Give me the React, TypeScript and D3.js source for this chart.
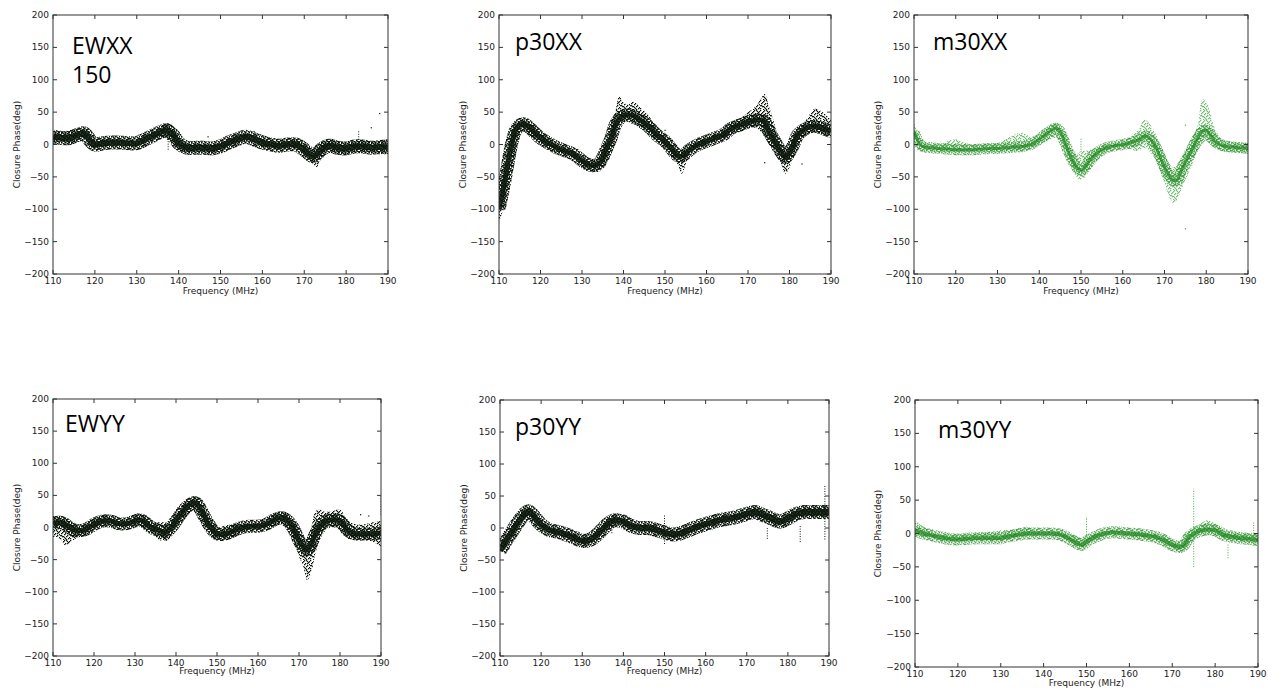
import React from "react";
import * as d3 from "d3";

// ---------- data ----------
const X_TICKS = [110, 120, 130, 140, 150, 160, 170, 180, 190];
const Y_TICKS = [-200, -150, -100, -50, 0, 50, 100, 150, 200];

// EWXX 150
const F_EWXX = [110,112,114,116,117.5,119,120,122,124,126,128,130,132,134,136,137,138,139,140,142,144,146,148,150,152,154,156,158,160,162,164,166,168,170,172,173,174,176,178,180,182,184,186,188,190];
const MID_EWXX = [12,10,10,15,17,5,0,2,3,3,2,2,8,14,20,22,18,12,2,-5,-5,-5,-6,-3,3,8,12,8,3,0,-2,0,0,-8,-18,-15,-8,-2,-5,-6,-3,-3,-5,-4,-3];
const LO_EWXX = [0,5,0,5,10,-5,-5,-3,-2,-2,-2,-2,3,8,12,10,5,0,-8,-12,-12,-12,-14,-10,-3,2,5,3,-3,-5,-8,-6,-6,-15,-30,-35,-20,-10,-15,-15,-12,-12,-12,-15,-15];
const HI_EWXX = [22,20,22,25,25,15,8,8,8,7,6,6,14,20,28,32,33,25,12,2,2,0,0,3,8,14,17,14,9,6,5,7,8,0,-5,-3,3,8,5,3,5,6,5,5,8];
const SPIKE_EWXX = [[137.5, -8, 32], [183, -12, 22]];
const OUT_EWXX = [[188, 48], [186, 26], [158, 20], [147, 12]];

// p30XX
const F_P30XX = [110,111,112,113,114,115,116,117,118,120,122,124,126,128,130,132,134,135,136,137,138,139,140,141,142,143,144,146,148,150,152,153,154,156,158,160,162,164,166,168,170,172,173,174,175,176,178,179,180,181,182,184,186,188,190];
const MID_P30XX = [-100,-70,-35,0,22,30,32,28,22,10,2,-5,-10,-15,-25,-32,-30,-20,-5,10,30,40,45,46,45,42,38,28,15,5,-10,-17,-18,-8,0,5,10,15,25,30,35,38,38,35,20,10,-12,-20,-12,0,15,25,28,25,20];
const LO_P30XX = [-120,-100,-70,-40,-10,15,20,15,12,2,-5,-12,-15,-22,-33,-42,-42,-35,-25,-10,10,30,35,35,32,30,25,18,5,-5,-22,-30,-45,-15,-5,0,5,8,15,20,25,25,20,15,0,-5,-30,-45,-35,-20,0,15,18,15,10];
const HI_P30XX = [-60,-40,-10,20,32,36,38,35,30,18,8,0,-5,-10,-18,-25,-20,-5,10,30,50,75,65,62,66,64,58,45,25,12,-3,-8,-10,0,5,10,15,22,35,40,50,60,70,78,60,40,0,-5,0,12,25,38,55,50,38];
const SPIKE_P30XX: number[][] = [];
const OUT_P30XX = [[150, 22], [174, -28], [183, -30]];

// m30XX
const F_M30XX = [110,111,112,114,116,118,120,122,124,126,128,130,132,134,136,138,140,142,144,145,146,148,149,150,151,152,154,156,158,160,162,164,165,166,168,170,172,173,174,176,178,179,180,181,182,184,186,188,190];
const MID_M30XX = [20,5,-3,-5,-6,-7,-8,-8,-8,-7,-6,-6,-5,-4,-3,0,8,18,25,20,5,-25,-35,-40,-35,-25,-12,-5,-2,0,3,8,12,12,-5,-35,-55,-55,-40,-15,10,20,22,15,5,-2,-4,-5,-6];
const LO_M30XX = [8,-5,-10,-10,-12,-12,-12,-12,-12,-12,-12,-12,-10,-10,-10,-5,0,5,10,5,-10,-40,-50,-55,-50,-40,-25,-12,-8,-5,-8,-10,-5,-8,-25,-60,-90,-85,-70,-40,-10,0,5,0,-5,-10,-12,-12,-15];
const HI_M30XX = [35,15,5,0,0,5,8,3,0,0,2,2,8,15,18,12,15,28,33,30,20,-10,-15,-10,-10,-8,-5,0,3,5,12,25,38,35,15,-15,-35,-30,-20,5,30,70,65,50,25,8,5,3,2];
const SPIKE_M30XX = [[150, -12, 10]];
const OUT_M30XX = [[175, -130], [175, 30]];

// EWYY
const F_EWYY = [110,111,112,113,114,116,118,120,122,124,126,128,130,131,132,134,136,137,138,140,142,144,145,146,148,150,152,154,156,158,160,162,164,166,168,170,171,172,173,174,175,176,178,180,182,184,186,188,190];
const MID_EWYY = [5,8,8,5,0,-5,-3,5,10,10,6,6,10,12,10,0,-5,-8,-5,10,28,38,38,28,5,-10,-10,-5,0,2,2,5,12,15,5,-20,-30,-35,-25,-10,0,8,12,10,-5,-10,-10,-10,-8];
const LO_EWYY = [-15,-15,-20,-28,-25,-15,-10,-3,3,3,2,2,3,3,0,-8,-20,-20,-20,0,15,25,25,15,-5,-20,-18,-15,-8,-5,-3,0,3,5,-10,-45,-60,-82,-70,-40,-20,-5,0,-3,-18,-20,-20,-22,-30];
const HI_EWYY = [18,18,18,15,10,3,5,15,18,18,12,12,18,20,18,8,8,8,5,20,38,48,48,40,18,0,3,5,5,6,7,12,22,25,18,-5,-15,-20,0,25,28,25,25,28,10,5,5,8,10];
const SPIKE_EWYY = [[137.5, -20, 8], [190, 20, 50]];
const OUT_EWYY = [[187, 18], [185, 20]];

// p30YY
const F_P30YY = [110,112,114,116,117,118,120,122,124,126,128,130,132,134,136,137,138,140,142,144,146,148,150,152,154,156,158,160,162,164,166,168,170,172,174,176,178,180,182,184,186,188,190];
const MID_P30YY = [-35,-15,5,22,26,20,5,-3,-6,-10,-15,-20,-18,-8,5,10,12,10,3,0,0,-3,-7,-10,-8,-3,2,6,10,13,15,18,22,25,20,15,10,15,22,25,25,25,25];
const LO_P30YY = [-42,-22,-2,15,18,12,0,-8,-10,-14,-20,-27,-24,-14,-2,0,5,5,-2,-5,-5,-8,-12,-16,-14,-8,-3,2,5,8,10,12,15,18,12,8,5,8,15,18,18,18,18];
const HI_P30YY = [-25,-8,12,30,33,25,10,2,-2,-5,-10,-14,-12,-2,12,18,18,15,8,5,5,2,-2,-4,-2,2,6,10,14,18,20,22,28,32,28,22,15,22,28,32,32,33,33];
const SPIKE_P30YY = [[137.2, -8, 15], [150, -25, 20], [175, -17, 0], [183, -22, 5], [189, -18, 68]];
const OUT_P30YY: number[][] = [];

// m30YY
const F_M30YY = [110,112,114,116,118,120,122,124,126,128,130,132,134,136,138,140,142,144,146,148,149,150,152,154,156,158,160,162,164,166,168,170,172,173,174,176,178,180,182,184,186,188,190];
const MID_M30YY = [5,0,-3,-6,-8,-9,-8,-7,-7,-7,-7,-4,-2,0,0,0,0,-2,-8,-15,-17,-12,-5,0,2,1,0,-1,-3,-5,-10,-17,-20,-15,-5,3,6,5,-2,-5,-7,-8,-10];
const LO_M30YY = [-2,-5,-6,-10,-12,-12,-12,-10,-10,-10,-10,-8,-5,-4,-3,-3,-3,-5,-12,-20,-22,-18,-10,-4,-2,-3,-4,-6,-8,-10,-15,-22,-28,-25,-15,-3,0,-2,-8,-10,-12,-14,-15];
const HI_M30YY = [20,10,2,-2,-3,-2,-2,0,2,3,5,5,8,10,5,4,4,3,-2,-5,-8,-5,0,3,5,4,3,3,2,0,-5,-10,-12,-5,5,12,20,15,5,2,0,0,-2];
const SPIKE_M30YY = [[150, -2, 25], [175, -50, 67], [183, -37, -15], [189, -15, 18]];
const OUT_M30YY: number[][] = [];

// ---------- layout / style ----------
type PanelCfg = {
  id: string; l: number; r: number; t: number; b: number;
  label: string[]; lx: number; ly: number; fs: number;
  green: boolean; core: number;
  f: number[]; mid: number[]; lo: number[]; hi: number[];
  spikes: number[][]; outs: number[][];
  ylabOff: number; xlabOff: number;
};

const PANELS: PanelCfg[] = [
  { id: "p1", l: 53, r: 388, t: 15, b: 274, label: ["EWXX", "150"], lx: 72, ly: 54, fs: 23, green: false, core: 6,
    f: F_EWXX, mid: MID_EWXX, lo: LO_EWXX, hi: HI_EWXX, spikes: SPIKE_EWXX, outs: OUT_EWXX, ylabOff: 36, xlabOff: 20 },
  { id: "p2", l: 499, r: 831, t: 15, b: 274, label: ["p30XX"], lx: 515, ly: 50, fs: 23, green: false, core: 5,
    f: F_P30XX, mid: MID_P30XX, lo: LO_P30XX, hi: HI_P30XX, spikes: SPIKE_P30XX, outs: OUT_P30XX, ylabOff: 36, xlabOff: 20 },
  { id: "p3", l: 914, r: 1248, t: 15, b: 274, label: ["m30XX"], lx: 933, ly: 50, fs: 23, green: true, core: 3,
    f: F_M30XX, mid: MID_M30XX, lo: LO_M30XX, hi: HI_M30XX, spikes: SPIKE_M30XX, outs: OUT_M30XX, ylabOff: 36, xlabOff: 20 },
  { id: "p4", l: 53, r: 381, t: 399, b: 656, label: ["EWYY"], lx: 65, ly: 432, fs: 23, green: false, core: 5,
    f: F_EWYY, mid: MID_EWYY, lo: LO_EWYY, hi: HI_EWYY, spikes: SPIKE_EWYY, outs: OUT_EWYY, ylabOff: 36, xlabOff: 18 },
  { id: "p5", l: 500, r: 829, t: 400, b: 656, label: ["p30YY"], lx: 515, ly: 435, fs: 23, green: false, core: 6,
    f: F_P30YY, mid: MID_P30YY, lo: LO_P30YY, hi: HI_P30YY, spikes: SPIKE_P30YY, outs: OUT_P30YY, ylabOff: 36, xlabOff: 18 },
  { id: "p6", l: 915, r: 1258, t: 400, b: 667, label: ["m30YY"], lx: 938, ly: 438, fs: 23, green: true, core: 4,
    f: F_M30YY, mid: MID_M30YY, lo: LO_M30YY, hi: HI_M30YY, spikes: SPIKE_M30YY, outs: OUT_M30YY, ylabOff: 37, xlabOff: 19 },
];

const DARK = "#0c180c";
const GREEN = "#1c861c";
const LIGHTGREEN = "#48aa48";

// irregular dot positions for the scatter texture tile (style only)
const DOTS_SPARSE = [[0,0],[3,1],[6,0],[1,3],[5,3],[8,2],[2,6],[7,5],[4,7],[0,8],[9,7],[6,9],[3,9],[9,4],[4,4],[7,1],[1,5],[8,8],[5,8],[2,2],[9,1],[3,6],[6,6],[0,5],[7,3],[4,0]];
const DOTS_DENSE = [[0,0],[2,0],[4,1],[6,0],[8,1],[1,2],[3,3],[5,2],[7,3],[9,2],[0,4],[2,5],[4,4],[6,5],[8,4],[1,6],[3,7],[5,6],[7,7],[9,6],[0,8],[2,9],[4,8],[6,9],[8,8],[1,0],[5,4],[9,8],[3,5],[7,9]];

function Panel({ p }: { p: PanelCfg }) {
  const x = d3.scaleLinear().domain([110, 190]).range([p.l, p.r]);
  const y = d3.scaleLinear().domain([-200, 200]).range([p.b, p.t]);
  const idx = p.f.map((_, i) => i);
  const area = d3.area<number>()
    .x((i) => x(p.f[i]))
    .y0((i) => y(p.lo[i]))
    .y1((i) => y(p.hi[i]))
    .curve(d3.curveCatmullRom.alpha(0.5));
  const line = d3.line<number>()
    .x((i) => x(p.f[i]))
    .y((i) => y(p.mid[i]))
    .curve(d3.curveCatmullRom.alpha(0.5));
  const sparse = p.green ? "url(#sparseGreen)" : "url(#sparseDark)";
  const dense = p.green ? "url(#denseGreen)" : "url(#denseDark)";
  const col = p.green ? GREEN : DARK;
  const tk = 4;
  const font = "'DejaVu Sans', sans-serif";
  const lineD = line(idx) || "";
  return (
    <g>
      <defs>
        <clipPath id={`clip-${p.id}`}>
          <rect x={p.l} y={p.t} width={p.r - p.l} height={p.b - p.t} />
        </clipPath>
      </defs>
      <g clipPath={`url(#clip-${p.id})`}>
        <path d={area(idx) || ""} fill={sparse} />
        <path d={lineD} fill="none" stroke={dense} strokeWidth={p.core + 8} strokeLinejoin="round" />
        <path d={lineD} fill="none" stroke={col} strokeOpacity={p.green ? 0.7 : 0.85} strokeWidth={p.core} strokeLinejoin="round" />
        {p.spikes.map((s, i) => (
          <line key={i} x1={x(s[0])} x2={x(s[0])} y1={y(s[1])} y2={y(s[2])}
            stroke={p.green ? LIGHTGREEN : DARK} strokeWidth={1} strokeDasharray="1 1.5" />
        ))}
        {p.outs.map((o, i) => (
          <rect key={i} x={x(o[0]) - 0.5} y={y(o[1]) - 0.5} width={1.2} height={1.2} fill={p.green ? LIGHTGREEN : DARK} />
        ))}
      </g>
      {/* frame */}
      <rect x={p.l} y={p.t} width={p.r - p.l} height={p.b - p.t} fill="none" stroke="#333" strokeWidth={1} />
      {/* ticks */}
      {X_TICKS.map((v) => (
        <g key={`x${v}`}>
          <line x1={x(v)} x2={x(v)} y1={p.b} y2={p.b - tk} stroke="#333" />
          <line x1={x(v)} x2={x(v)} y1={p.t} y2={p.t + tk} stroke="#333" />
          <text x={x(v)} y={p.b + 9.5} fontSize={9} fontFamily={font} fill="#222" textAnchor="middle">{v}</text>
        </g>
      ))}
      {Y_TICKS.map((v) => (
        <g key={`y${v}`}>
          <line x1={p.l} x2={p.l + tk} y1={y(v)} y2={y(v)} stroke="#333" />
          <line x1={p.r} x2={p.r - tk} y1={y(v)} y2={y(v)} stroke="#333" />
          <text x={p.l - 4} y={y(v) + 3} fontSize={9} fontFamily={font} fill="#222" textAnchor="end">
            {v < 0 ? `\u2212${Math.abs(v)}` : v}
          </text>
        </g>
      ))}
      <text x={(p.l + p.r) / 2} y={p.b + p.xlabOff} fontSize={9} fontFamily={font} fill="#222" textAnchor="middle">Frequency (MHz)</text>
      <text transform={`translate(${p.l - p.ylabOff},${(p.t + p.b) / 2}) rotate(-90)`} fontSize={9} fontFamily={font}
        fill="#222" textAnchor="middle" dominantBaseline="middle">Closure Phase(deg)</text>
      {p.label.map((s, i) => (
        <text key={i} x={p.lx} y={p.ly + i * 29} fontSize={p.fs} fontFamily="'Open Sans', sans-serif" fill="#000">{s}</text>
      ))}
    </g>
  );
}

export default function App() {
  const tile = 10;
  return (
    <svg width={1268} height={692} style={{ position: "absolute", left: 0, top: 0, background: "#fff" }}>
      <defs>
        <pattern id="sparseDark" width={tile} height={tile} patternUnits="userSpaceOnUse">
          {DOTS_SPARSE.map((d, i) => <rect key={i} x={d[0]} y={d[1]} width={1.3} height={1.3} fill={DARK} />)}
        </pattern>
        <pattern id="denseDark" width={tile} height={tile} patternUnits="userSpaceOnUse">
          {DOTS_DENSE.map((d, i) => <rect key={i} x={d[0]} y={d[1]} width={1.6} height={1.6} fill={DARK} />)}
        </pattern>
        <pattern id="sparseGreen" width={tile} height={tile} patternUnits="userSpaceOnUse">
          {DOTS_SPARSE.map((d, i) => <rect key={i} x={d[0]} y={d[1]} width={1.3} height={1.3} fill={LIGHTGREEN} fillOpacity={0.75} />)}
        </pattern>
        <pattern id="denseGreen" width={tile} height={tile} patternUnits="userSpaceOnUse">
          {DOTS_DENSE.map((d, i) => <rect key={i} x={d[0]} y={d[1]} width={1.5} height={1.5} fill={GREEN} fillOpacity={0.65} />)}
        </pattern>
      </defs>
      <rect x={0} y={0} width={1268} height={692} fill="#fff" />
      {PANELS.map((p) => <Panel key={p.id} p={p} />)}
    </svg>
  );
}
